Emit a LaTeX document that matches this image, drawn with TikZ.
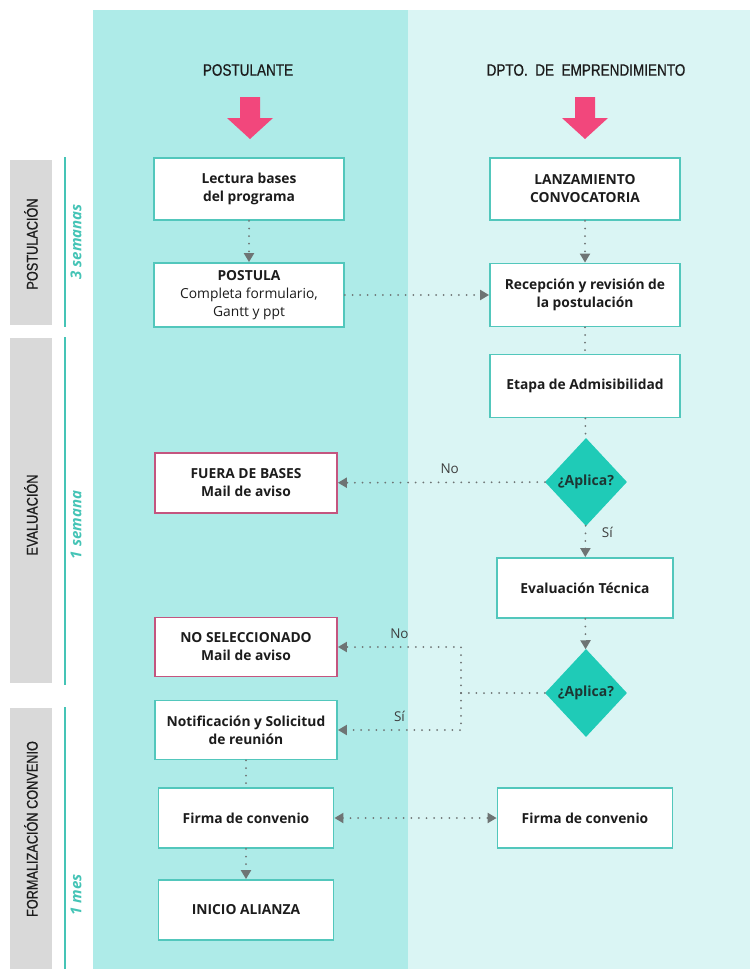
\documentclass[tikz,border=0pt]{standalone}
\usepackage{fontspec}
\setmainfont{Open Sans}
\newfontfamily\condfont[FakeStretch=0.82,FakeBold=0.6]{Liberation Sans}
\usetikzlibrary{arrows.meta,shapes.geometric}

\definecolor{lanedark}{HTML}{AEEBE8}
\definecolor{lanelight}{HTML}{DAF5F4}
\definecolor{bargray}{HTML}{D9D9D9}
\definecolor{spanteal}{HTML}{45C4B6}
\definecolor{boxteal}{HTML}{52C7BC}
\definecolor{boxred}{HTML}{C4557F}
\definecolor{dtteal}{HTML}{1FCBB7}
\definecolor{pinkarr}{HTML}{F2477C}
\definecolor{dotgray}{HTML}{6E7474}
\definecolor{ink}{HTML}{1C1C1C}

\begin{document}
\begin{tikzpicture}[x=1pt,y=-1pt,
    box/.style={draw=boxteal, line width=1.8pt, fill=white, text=ink,
        minimum width=190pt, minimum height=62pt, align=center, inner sep=2pt,
        font=\fontsize{13.8}{18}\selectfont\bfseries},
    redbox/.style={box, draw=boxred},
    decision/.style={diamond, fill=dtteal, inner sep=0pt,
        minimum width=82pt, minimum height=88pt, text=ink!85!dtteal,
        font=\fontsize{14}{16}\selectfont\bfseries},
    lane/.style={font=\condfont\fontsize{16.5}{18}\selectfont, text=ink},
    phase/.style={font=\condfont\fontsize{15.5}{18}\selectfont, text=ink, rotate=90},
    span/.style={font=\fontsize{15}{17}\selectfont\bfseries\itshape, text=spanteal, rotate=90},
    lbl/.style={font=\fontsize{13.5}{15}\selectfont, text=ink!85},
    link/.style={draw=dotgray, line width=2pt, line cap=round,
        dash pattern=on 0pt off 7.6pt},
    flow/.style={link, -{Triangle[width=10pt,length=9pt]}},
    flowboth/.style={link, {Triangle[width=10pt,length=9pt]}-{Triangle[width=10pt,length=9pt]}}
]

\useasboundingbox (0,0) rectangle (750,969);
\fill[white] (0,0) rectangle (750,969);

\fill[lanedark] (93,10) rectangle (408,969);
\fill[lanelight] (408,10) rectangle (750,969);

\foreach \ya/\yb in {160/325, 338/683, 708/969}
    \fill[bargray] (10,\ya) rectangle (52,\yb);

\foreach \ya/\yb in {157/327, 337/685, 707/969}
    \draw[spanteal, line width=2.6pt] (65,\ya) -- (65,\yb);

\node[phase] (ph1) at (31,244) {POSTULACIÓN};
\node[phase] (ph2) at (31,515) {EVALUACIÓN};
\node[phase] (ph3) at (31,829) {FORMALIZACIÓN CONVENIO};

\node[span] (sp1) at (76,242) {3 semanas};
\node[span] (sp2) at (76,525) {1 semana};
\node[span] (sp3) at (76,895) {1 mes};

\node[lane] (lpost) at (248,70) {POSTULANTE};
\node[lane] (ldpto) at (586,70) {DPTO.~ DE~ EMPRENDIMIENTO};

\foreach \x in {250,585}
    \fill[pinkarr] (\x-10,97) -- (\x+10,97) -- (\x+10,118) -- (\x+23,118)
        -- (\x,139) -- (\x-23,118) -- (\x-10,118) -- cycle;

\node[box] (lect) at (249,189) {Lectura bases\\del programa};
\node[box, minimum height=64pt] (post) at (249,295)
    {POSTULA\\{\mdseries Completa formulario,}\\{\mdseries Gantt y ppt}};
\node[box] (lanz) at (585,189) {LANZAMIENTO\\CONVOCATORIA};
\node[box, minimum height=63pt] (recep) at (585,295) {Recepción y revisión de\\la postulación};
\node[box, minimum height=63pt] (etapa) at (585,386) {Etapa de Admisibilidad};
\node[decision] (apl1) at (586,482) {¿Aplica?};
\node[box, minimum width=176pt, minimum height=60pt] (evtec) at (585,588) {Evaluación Técnica};
\node[decision] (apl2) at (586,693) {¿Aplica?};

\node[redbox, minimum width=182pt, minimum height=60pt] (fuera) at (246,483) {FUERA DE BASES\\Mail de aviso};
\node[redbox, minimum width=182pt, minimum height=59pt] (nosel) at (246,647) {NO SELECCIONADO\\Mail de aviso};
\node[box, minimum width=182pt, minimum height=59pt] (notif) at (246,730) {Notificación y Solicitud\\de reunión};
\node[box, minimum width=175pt, minimum height=60pt] (firmaL) at (246,818) {Firma de convenio};
\node[box, minimum width=175pt, minimum height=60pt] (inicio) at (246,910) {INICIO ALIANZA};
\node[box, minimum width=175pt, minimum height=60pt] (firmaR) at (585,818) {Firma de convenio};

\coordinate (split) at (461,693);

\draw[flow] (lect) -- (post);
\draw[flow] (lanz) -- (recep);
\draw[flow] (post) -- (recep);
\draw[link] (recep) -- (etapa);
\draw[link] (etapa) -- (apl1);
\draw[flow] (apl1) -- node[lbl, above=4pt, pos=0.46] {No} (fuera);
\draw[flow] (apl1) -- node[lbl, right=12pt, pos=0.2] {Sí} (evtec);
\draw[flow] (evtec) -- (apl2);
\draw[link] (apl2) -- (split);
\draw[flow] (split) |- node[lbl, above=4pt, pos=0.75] {No} (nosel);
\draw[flow] (split) |- node[lbl, above=4pt, pos=0.75] {Sí} (notif);
\draw[link] (notif) -- (firmaL);
\draw[flowboth] (firmaL) -- (firmaR);
\draw[flow] (firmaL) -- (inicio);

\end{tikzpicture}
\end{document}
